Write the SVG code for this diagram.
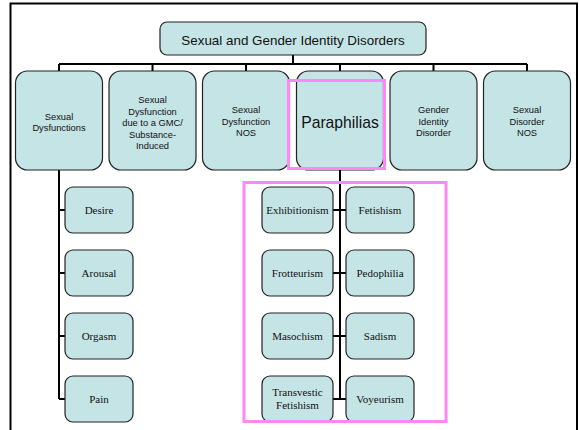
<svg xmlns="http://www.w3.org/2000/svg" width="579" height="430" viewBox="0 0 579 430">
<style>
.box{fill:#c5e4e6;stroke:#222;stroke-width:1.2}
.ln{stroke:#000;stroke-width:2;fill:none}
.hl{fill:none;stroke:#ff88f2;stroke-width:3}
.a{font-family:"Liberation Sans",Arial,sans-serif;fill:#111;text-anchor:middle}
.t{font-family:"Liberation Serif","Times New Roman",serif;fill:#111;text-anchor:middle;font-size:11px}
.s{font-size:9.3px}
</style>
<rect x="0" y="0" width="579" height="430" fill="#fff"/>
<rect x="10.5" y="3.5" width="566.5" height="440" fill="none" stroke="#000" stroke-width="2"/>
<g id="connectors">
<path class="ln" d="M293 55V64M59 64H527M59 64V71M152.5 64V71M246 64V71M340 64V71M433.5 64V71M527 64V71"/>
<path class="ln" d="M59 170V399M59 210H65M59 273H65M59 336H65M59 399H65"/>
<path class="ln" d="M340 170V399M333 210H346M333 273H346M333 336H346M333 399H346"/>
</g>
<g id="root"><rect class="box" x="160" y="22" width="266" height="33" rx="7"/><text class="a" x="293" y="45" font-size="13.4">Sexual and Gender Identity Disorders</text></g>
<g id="n1"><rect class="box" x="15.5" y="71" width="87" height="99" rx="12"/><text class="a s" x="59" y="119.5">Sexual</text><text class="a s" x="59" y="131">Dysfunctions</text></g>
<g id="n2"><rect class="box" x="109" y="71" width="87" height="99" rx="12"/><text class="a s" x="152.5" y="103">Sexual</text><text class="a s" x="152.5" y="114.5">Dysfunction</text><text class="a s" x="152.5" y="126">due to a GMC/</text><text class="a s" x="152.5" y="137.5">Substance-</text><text class="a s" x="152.5" y="149">Induced</text></g>
<g id="n3"><rect class="box" x="202.5" y="71" width="87" height="99" rx="12"/><text class="a s" x="246" y="113">Sexual</text><text class="a s" x="246" y="124.5">Dysfunction</text><text class="a s" x="246" y="136">NOS</text></g>
<g id="n4"><rect class="box" x="296.5" y="71" width="87" height="99" rx="12"/><text class="a" x="340" y="128" font-size="15.7">Paraphilias</text></g>
<g id="n5"><rect class="box" x="390" y="71" width="87" height="99" rx="12"/><text class="a s" x="433.5" y="113">Gender</text><text class="a s" x="433.5" y="124.5">Identity</text><text class="a s" x="433.5" y="136">Disorder</text></g>
<g id="n6"><rect class="box" x="483.5" y="71" width="87" height="99" rx="12"/><text class="a s" x="527" y="113">Sexual</text><text class="a s" x="527" y="124.5">Disorder</text><text class="a s" x="527" y="136">NOS</text></g>
<rect class="hl" x="288.5" y="80.5" width="96" height="88"/>
<g id="desire"><rect class="box" x="65" y="187" width="68" height="46" rx="8"/><text class="t" x="99" y="214">Desire</text></g>
<g id="arousal"><rect class="box" x="65" y="250" width="68" height="46" rx="8"/><text class="t" x="99" y="277">Arousal</text></g>
<g id="orgasm"><rect class="box" x="65" y="313" width="68" height="46" rx="8"/><text class="t" x="99" y="340">Orgasm</text></g>
<g id="pain"><rect class="box" x="65" y="376" width="68" height="46" rx="8"/><text class="t" x="99" y="403">Pain</text></g>
<g id="exhibitionism"><rect class="box" x="262" y="187" width="71" height="46" rx="8"/><text class="t" x="297.5" y="214">Exhibitionism</text></g>
<g id="fetishism"><rect class="box" x="346" y="187" width="68" height="46" rx="8"/><text class="t" x="380" y="214">Fetishism</text></g>
<g id="frotteurism"><rect class="box" x="262" y="250" width="71" height="46" rx="8"/><text class="t" x="297.5" y="277">Frotteurism</text></g>
<g id="pedophilia"><rect class="box" x="346" y="250" width="68" height="46" rx="8"/><text class="t" x="380" y="277">Pedophilia</text></g>
<g id="masochism"><rect class="box" x="262" y="313" width="71" height="46" rx="8"/><text class="t" x="297.5" y="340">Masochism</text></g>
<g id="sadism"><rect class="box" x="346" y="313" width="68" height="46" rx="8"/><text class="t" x="380" y="340">Sadism</text></g>
<g id="transvestic"><rect class="box" x="262" y="376" width="71" height="46" rx="8"/><text class="t" x="297.5" y="396">Transvestic</text><text class="t" x="297.5" y="409">Fetishism</text></g>
<g id="voyeurism"><rect class="box" x="346" y="376" width="68" height="46" rx="8"/><text class="t" x="380" y="403">Voyeurism</text></g>
<rect class="hl" x="244" y="182.5" width="202" height="239"/>
</svg>
